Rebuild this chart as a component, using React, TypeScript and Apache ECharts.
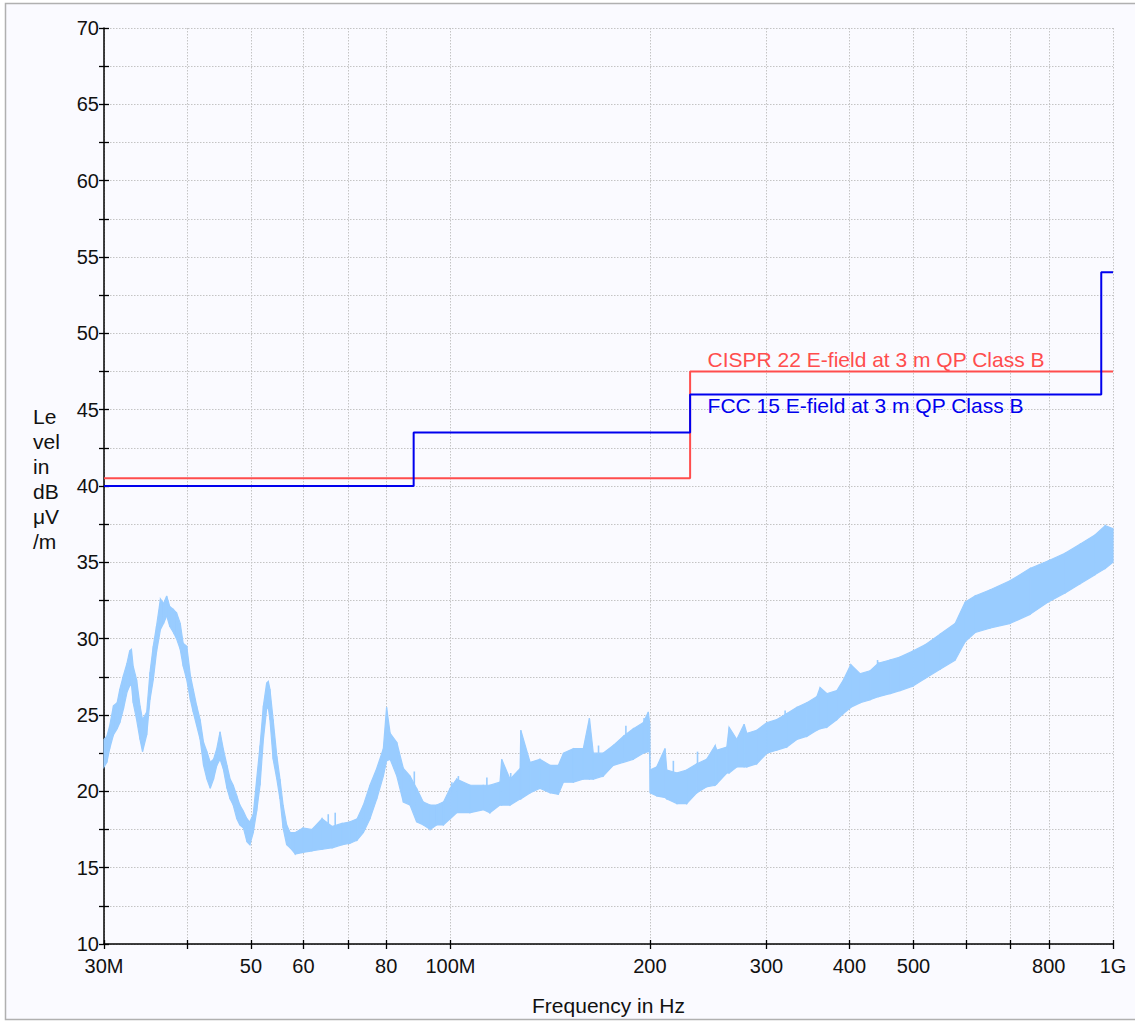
import React, { useEffect, useRef } from 'react';
import * as echarts from 'echarts';

// Measured trace: frequency (MHz) and the low/high envelope of the noisy level trace (dBµV/m)
const freqMHz = [
  30.0, 30.3, 30.6, 31.0, 31.4, 31.7, 32.1, 32.5, 32.8, 33.0, 33.2, 33.6, 34.0, 34.3, 34.8, 35.2, 35.6, 36.0, 36.5, 36.9,
  37.3, 37.7, 38.2, 38.6, 39.1, 39.5, 40.0, 40.5, 40.9, 41.4, 41.9, 42.4, 42.9, 43.4, 43.9, 44.4, 44.9, 45.4, 46.0, 46.5,
  47.0, 47.6, 48.1, 48.7, 49.3, 49.8, 50.4, 51.0, 51.6, 52.2, 52.8, 53.1, 53.4, 54.0, 54.7, 55.3, 55.9, 56.6, 57.3, 58.3,
  59.9, 61.8, 64.0, 66.3, 68.6, 70.5, 72.3, 73.9, 75.6, 77.4, 79.2, 80.1, 81.1, 83.0, 84.9, 86.9, 88.9, 91.0, 93.2, 95.3,
  97.6, 99.9, 102.2, 107.0, 112.1, 114.7, 118.8, 119.5, 123.0, 127.4, 127.7, 131.9, 136.5, 141.4, 145.5, 148.1, 153.3, 158.7, 162.1, 164.3,
  170.1, 176.1, 182.4, 188.8, 195.5, 198.9, 199.8, 200.2, 204.8, 210.8, 212.1, 219.6, 227.4, 235.4, 243.7, 250.9, 252.4, 261.3, 263.4, 270.5,
  277.5, 280.1, 290.0, 300.3, 310.9, 321.9, 333.3, 345.1, 357.3, 361.4, 369.9, 383.0, 391.9, 402.1, 415.3, 430.0, 442.6, 461.0, 477.3, 499.3,
  520.6, 548.5, 577.9, 598.3, 619.5, 652.6, 699.6, 750.0, 798.5, 847.0, 892.4, 940.1, 973.4, 1000
];
const levelLow = [
  21.6, 21.9, 22.8, 23.7, 24.1, 24.5, 25.4, 26.5, 26.9, 27.0, 25.8, 24.7, 23.4, 22.6, 23.7, 26.0, 27.3, 29.1, 30.6, 31.0,
  31.5, 30.8, 30.4, 30.0, 29.3, 28.2, 27.3, 26.0, 25.2, 24.3, 23.4, 21.7, 20.8, 20.2, 20.8, 21.7, 22.1, 21.5, 20.2, 19.5,
  19.1, 18.2, 17.8, 17.6, 16.7, 16.5, 17.3, 18.7, 20.4, 23.4, 25.4, 25.5, 24.7, 22.1, 20.8, 19.5, 17.6, 16.5, 16.3, 15.9,
  16.0, 16.1, 16.2, 16.3, 16.5, 16.6, 16.8, 17.3, 18.2, 19.5, 21.0, 22.0, 22.1, 21.0, 19.3, 19.1, 18.0, 17.8, 17.5, 17.8,
  17.8, 18.2, 18.6, 18.6, 18.8, 18.6, 19.1, 19.1, 19.1, 19.5, 19.5, 19.9, 20.2, 19.9, 19.8, 20.6, 20.6, 20.8, 20.8, 20.8,
  21.0, 21.7, 21.9, 22.1, 22.5, 22.6, 22.6, 19.9, 19.7, 19.6, 19.5, 19.2, 19.2, 19.9, 20.3, 20.4, 20.5, 21.2, 21.2, 21.6,
  21.6, 21.6, 21.8, 22.5, 22.7, 22.9, 23.4, 23.6, 24.0, 24.1, 24.2, 24.7, 25.1, 25.5, 25.8, 26.0, 26.2, 26.4, 26.6, 26.9,
  27.4, 28.0, 28.6, 29.8, 30.4, 30.7, 31.0, 31.6, 32.4, 33.0, 33.6, 34.2, 34.6, 35.0
];
const levelHigh = [
  23.4, 23.6, 24.3, 25.6, 25.8, 26.7, 27.6, 28.4, 29.2, 29.3, 28.2, 27.3, 25.6, 24.7, 25.2, 27.8, 29.5, 30.8, 32.6, 32.3,
  32.8, 32.1, 31.9, 31.7, 31.0, 29.7, 29.5, 27.6, 26.7, 25.6, 24.7, 23.2, 22.6, 21.9, 22.1, 22.8, 23.9, 22.8, 21.7, 20.8,
  20.4, 19.7, 19.1, 18.7, 18.2, 18.0, 18.5, 20.8, 23.0, 25.6, 27.1, 27.2, 26.7, 24.7, 22.3, 20.8, 19.1, 17.8, 17.3, 17.3,
  17.6, 17.5, 18.2, 17.7, 17.9, 18.0, 18.2, 19.1, 20.4, 21.5, 22.8, 25.5, 23.8, 23.2, 21.5, 21.0, 20.2, 19.3, 19.1, 19.1,
  19.3, 20.2, 20.8, 20.4, 20.4, 20.4, 20.6, 22.1, 20.8, 21.5, 24.0, 21.9, 22.1, 21.7, 21.7, 22.5, 22.8, 22.8, 24.8, 22.5,
  22.5, 23.0, 23.6, 24.1, 24.5, 25.2, 24.5, 21.4, 21.6, 22.8, 21.4, 21.2, 21.4, 21.8, 22.1, 23.0, 22.7, 22.9, 24.2, 23.4,
  24.4, 23.8, 24.0, 24.5, 24.7, 25.1, 25.5, 25.8, 26.2, 26.8, 26.4, 26.6, 27.3, 28.3, 27.7, 27.9, 28.4, 28.6, 28.8, 29.2,
  29.6, 30.3, 31.0, 32.4, 32.8, 33.2, 33.8, 34.6, 35.1, 35.6, 36.2, 36.8, 37.4, 37.2
];

// Isolated narrow spikes rising above the trace: frequency (MHz), base level, peak level
const spikeFreq = [65.4, 67.0, 88.2, 100.5, 102.8, 113.5, 123.3, 131.1, 160.2, 167.3, 184.0, 196.0, 217.0, 236.0, 320.0, 441.2];
const spikeBase = [17.6, 17.6, 20.0, 19.9, 20.4, 20.3, 20.7, 21.6, 22.7, 22.5, 23.7, 24.4, 21.2, 21.8, 24.9, 28.2];
const spikePeak = [18.5, 18.6, 21.3, 20.6, 21.0, 20.9, 21.2, 22.1, 23.3, 23.0, 24.3, 24.8, 22.0, 22.6, 25.3, 28.6];

// Limit lines
const cisprFreq = [30, 230, 230, 1000];
const cisprLevel = [40.5, 40.5, 47.5, 47.5];
const fccFreq = [30, 88, 88, 230, 230, 960, 960, 1000];
const fccLevel = [40, 40, 43.5, 43.5, 46, 46, 54, 54];

// Axis ticks / labels
const xTickFreqs = [30, 40, 50, 60, 70, 80, 100, 200, 300, 400, 500, 600, 700, 800, 1000];
const xLabelFreqs = [30, 50, 60, 80, 100, 200, 300, 400, 500, 800, 1000];
const xLabelTexts = ['30M', '50', '60', '80', '100M', '200', '300', '400', '500', '800', '1G'];
const yMin = 10;
const yMax = 70;
const yStep = 2.5;
const yLabelStep = 5;

const cisprName = 'CISPR 22 E-field at 3 m QP Class B';
const fccName = 'FCC 15 E-field at 3 m QP Class B';

const FONT = '"Liberation Sans", Arial, Helvetica, sans-serif';
const TRACE = '#99ccff';
const RED = '#ff4d4d';
const BLUE = '#0000ee';

const lg = (f: number) => Math.log10(f);

export default function App() {
  const ref = useRef<HTMLDivElement>(null);
  useEffect(() => {
    if (!ref.current) return;
    const chart = echarts.init(ref.current, undefined, { renderer: 'svg' });
    const xMin = lg(30);
    const xMax = lg(1000);
    const tickVals = xTickFreqs.map(lg);
    const labelVals = xLabelFreqs.map(lg);
    const fmtX = (v: number) => {
      const f = Math.round(Math.pow(10, v));
      const i = xLabelFreqs.indexOf(f);
      return i >= 0 ? xLabelTexts[i] : '';
    };
    // band segments: [x0, lo0, hi0, x1, lo1, hi1]
    const segs: number[][] = [];
    for (let i = 0; i < freqMHz.length - 1; i++) {
      segs.push([lg(freqMHz[i]), levelLow[i], levelHigh[i], lg(freqMHz[i + 1]), levelLow[i + 1], levelHigh[i + 1]]);
    }
    const spikes = spikeFreq.map((f, i) => [lg(f), spikeBase[i], spikePeak[i]]);
    const gridLine = { show: true, lineStyle: { color: '#c4c4c4', width: 1, type: [1.5, 1.5] as any } };

    chart.setOption({
      animation: false,
      backgroundColor: '#ffffff',
      graphic: [
        {
          type: 'rect',
          z: -100,
          shape: { x: 5.5, y: 3.5, width: 1140, height: 1016 },
          style: { fill: '#fafaff', stroke: '#b0b0b0', lineWidth: 1.5 },
          silent: true,
        },
        {
          type: 'text',
          left: 33,
          top: 404,
          style: {
            text: 'Le\nvel\nin\ndB\nμV\n/m',
            fontSize: 21,
            lineHeight: 25,
            fontFamily: FONT,
            fill: '#111',
          },
          silent: true,
        },
      ],
      grid: { left: 104, right: 22, top: 28, bottom: 76, containLabel: false },
      xAxis: [
        {
          type: 'value',
          min: xMin,
          max: xMax,
          position: 'bottom',
          axisLine: { show: true, lineStyle: { color: '#000', width: 1.5 } },
          axisTick: { show: true, length: 5, customValues: tickVals, lineStyle: { color: '#000', width: 1.3 } },
          axisLabel: {
            show: true,
            customValues: labelVals,
            formatter: fmtX,
            fontSize: 20,
            fontFamily: FONT,
            color: '#111',
            margin: 12,
          },
          splitLine: gridLine,
          name: 'Frequency in Hz',
          nameLocation: 'middle',
          nameGap: 51,
          nameTextStyle: { fontSize: 21, fontFamily: FONT, color: '#111' },
        },
        {
          type: 'value',
          min: xMin,
          max: xMax,
          position: 'bottom',
          axisLine: { show: false },
          axisTick: { show: true, inside: true, length: 4, customValues: tickVals, lineStyle: { color: '#000', width: 1.3 } },
          axisLabel: { show: false },
          splitLine: { show: false },
        },
      ],
      yAxis: [
        {
          type: 'value',
          min: yMin,
          max: yMax,
          interval: yStep,
          axisLine: { show: true, lineStyle: { color: '#000', width: 1.5 } },
          axisTick: { show: true, length: 5, lineStyle: { color: '#000', width: 1.3 } },
          axisLabel: {
            formatter: (v: number) => (v % yLabelStep === 0 ? String(v) : ''),
            fontSize: 20,
            fontFamily: FONT,
            color: '#111',
            margin: 5,
          },
          splitLine: gridLine,
        },
        {
          type: 'value',
          min: yMin,
          max: yMax,
          interval: yStep,
          position: 'left',
          axisLine: { show: false },
          axisTick: { show: true, inside: true, length: 5, lineStyle: { color: '#000', width: 1.3 } },
          axisLabel: { show: false },
          splitLine: { show: false },
        },
      ],
      series: [
        {
          type: 'custom',
          name: 'trace',
          data: segs,
          encode: { x: [0, 3], y: [1, 2, 4, 5] },
          silent: true,
          z: 2,
          renderItem: (_params: any, api: any) => {
            const a = api.coord([api.value(0), api.value(1)]);
            const b = api.coord([api.value(0), api.value(2)]);
            const c = api.coord([api.value(3), api.value(5)]);
            const d = api.coord([api.value(3), api.value(4)]);
            return {
              type: 'polygon',
              shape: { points: [a, b, c, d] },
              style: { fill: TRACE, stroke: TRACE, lineWidth: 1.2 },
            };
          },
        },
        {
          type: 'custom',
          name: 'spikes',
          data: spikes,
          encode: { x: 0, y: [1, 2] },
          silent: true,
          z: 2,
          renderItem: (_params: any, api: any) => {
            const a = api.coord([api.value(0), api.value(1)]);
            const b = api.coord([api.value(0), api.value(2)]);
            return {
              type: 'line',
              shape: { x1: a[0], y1: a[1], x2: b[0], y2: b[1] },
              style: { stroke: TRACE, lineWidth: 1.6 },
            };
          },
        },
        {
          type: 'line',
          name: cisprName,
          data: cisprFreq.map((f, i) => [lg(f), cisprLevel[i]]),
          symbol: 'none',
          showSymbol: false,
          lineStyle: { width: 2, color: RED },
          silent: true,
          z: 3,
          markPoint: {
            symbol: 'circle',
            symbolSize: 1,
            itemStyle: { color: 'rgba(0,0,0,0)' },
            silent: true,
            label: {
              show: true,
              position: [18, -22],
              formatter: cisprName,
              color: RED,
              fontSize: 21,
              fontFamily: FONT,
            },
            data: [{ coord: [lg(230), 47.5] }],
          },
        },
        {
          type: 'line',
          name: fccName,
          data: fccFreq.map((f, i) => [lg(f), fccLevel[i]]),
          symbol: 'none',
          showSymbol: false,
          lineStyle: { width: 2, color: BLUE },
          silent: true,
          z: 4,
          markPoint: {
            symbol: 'circle',
            symbolSize: 1,
            itemStyle: { color: 'rgba(0,0,0,0)' },
            silent: true,
            label: {
              show: true,
              position: [18, 1],
              formatter: fccName,
              color: BLUE,
              fontSize: 21,
              fontFamily: FONT,
            },
            data: [{ coord: [lg(230), 46] }],
          },
        },
      ],
    });
    return () => chart.dispose();
  }, []);
  return (
    <div
      ref={ref}
      style={{ position: 'absolute', left: 0, top: 0, width: 1135, height: 1021 }}
    />
  );
}
